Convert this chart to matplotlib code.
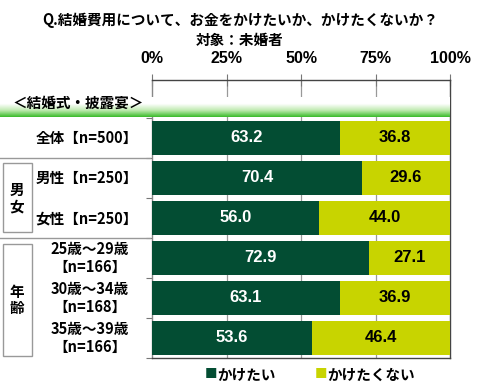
import numpy as np
import matplotlib.pyplot as plt
from matplotlib.patches import Rectangle
from matplotlib.colors import LinearSegmentedColormap

plt.rcParams['font.family'] = ['Noto Sans CJK JP', 'DejaVu Sans']

# dane
labels = ['全体【n=500】', '男性【n=250】', '女性【n=250】',
          '25歳～29歳\n【n=166】', '30歳～34歳\n【n=168】', '35歳～39歳\n【n=166】']
kaketai = [63.2, 70.4, 56.0, 72.9, 63.1, 53.6]
kaketakunai = [36.8, 29.6, 44.0, 27.1, 36.9, 46.4]
groups = ['男\n女', '年\n齢']
series_names = ['かけたい', 'かけたくない']
ticks = [0, 25, 50, 75, 100]

dark = '#034d33'
light = '#c8d400'

W, H = 480, 388
fig = plt.figure(figsize=(W / 100, H / 100), dpi=100)


def fx(px):
    return px / W


def fy(py):
    return 1 - py / H


# osie wykresu
ax = fig.add_axes([fx(152), fy(358), fx(450) - fx(152), fy(80) - fy(358)])
y = np.arange(len(labels))
ax.barh(y, kaketai, height=0.85, color=dark, zorder=3)
ax.barh(y, kaketakunai, left=kaketai, height=0.85, color=light, zorder=3)

for i in range(len(labels)):
    ax.text(kaketai[i] / 2, y[i], f'{kaketai[i]:.1f}', ha='center', va='center',
            color='white', fontsize=12, fontweight='bold', family='Liberation Sans', zorder=4)
    ax.text(kaketai[i] + kaketakunai[i] / 2, y[i], f'{kaketakunai[i]:.1f}', ha='center',
            va='center', color='black', fontsize=12, fontweight='bold',
            family='Liberation Sans', zorder=4)

ax.set_xlim(0, 100)
ax.set_ylim(5.47, -1.44)
ax.xaxis.tick_top()
ax.set_xticks(ticks)
ax.set_xticklabels([f'{t}%' for t in ticks], fontsize=11.5, fontweight='bold',
                   family='Liberation Sans')
ax.tick_params(axis='x', direction='inout', length=8, color='#777777', pad=6)
for t in ticks[1:-1]:
    ax.axvline(t, color='#999999', lw=0.9, zorder=1)
ax.set_yticks(np.arange(-0.5, 5.6, 1))
ax.set_yticklabels([])
ax.tick_params(axis='y', direction='out', length=4, color='#777777')
for s in ['top', 'right', 'left', 'bottom']:
    ax.spines[s].set_color('#444444')
    ax.spines[s].set_linewidth(1.0)
ax.spines['left'].set_color('#888888')

# pasek z gradientem
band = fig.add_axes([0, fy(117), fx(450), fy(97) - fy(117)])
cmap = LinearSegmentedColormap.from_list('g', ['#ffffff', '#ffffff', '#bfeab0', '#3cbc2c'])
band.imshow(np.linspace(0, 1, 50).reshape(-1, 1), aspect='auto', cmap=cmap,
            extent=[0, 1, 0, 1], origin='upper')
band.set_axis_off()
fig.text(fx(78), fy(103), '＜結婚式・披露宴＞', ha='center', va='center',
         fontsize=10.5, fontweight='bold')

# etykiety wierszy
row_px = [138, 178, 218, 258, 298, 338]
for lab, py in zip(labels, row_px):
    if '\n' in lab:
        fig.text(fx(90), fy(py), lab, ha='center', va='center', fontsize=10.5,
                 fontweight='bold', linespacing=1.1)
    else:
        fig.text(fx(138), fy(py), lab, ha='right', va='center', fontsize=10.5,
                 fontweight='bold')

# linie i ramki grup
for py in [158, 238]:
    fig.add_artist(plt.Line2D([0, fx(150)], [fy(py), fy(py)], color='#999999', lw=1.0))
fig.add_artist(Rectangle((fx(3), fy(232)), fx(29), fy(163) - fy(232), fill=False,
                         ec='#999999', lw=1.0))
fig.add_artist(Rectangle((fx(3), fy(356)), fx(29), fy(244) - fy(356), fill=False,
                         ec='#999999', lw=1.0))
fig.text(fx(17), fy(198), groups[0], ha='center', va='center', fontsize=10.5,
         fontweight='bold', linespacing=1.0)
fig.text(fx(17), fy(300), groups[1], ha='center', va='center', fontsize=10.5,
         fontweight='bold', linespacing=1.0)

# tytul
fig.text(0.5, fy(20), 'Q.結婚費用について、お金をかけたいか、かけたくないか？', ha='center',
         va='center', fontsize=10.5, fontweight='bold')
fig.text(0.5, fy(40), '対象：未婚者', ha='center', va='center', fontsize=10.5,
         fontweight='bold')

# legenda
fig.text(fx(205), fy(375), '■', color=dark, ha='left', va='center', fontsize=9)
fig.text(fx(217), fy(375), series_names[0], ha='left', va='center', fontsize=10.5,
         fontweight='bold')
fig.text(fx(315), fy(375), '■', color=light, ha='left', va='center', fontsize=9)
fig.text(fx(327), fy(375), series_names[1], ha='left', va='center', fontsize=10.5,
         fontweight='bold')

fig.savefig('out.png', dpi=100, facecolor='white')
